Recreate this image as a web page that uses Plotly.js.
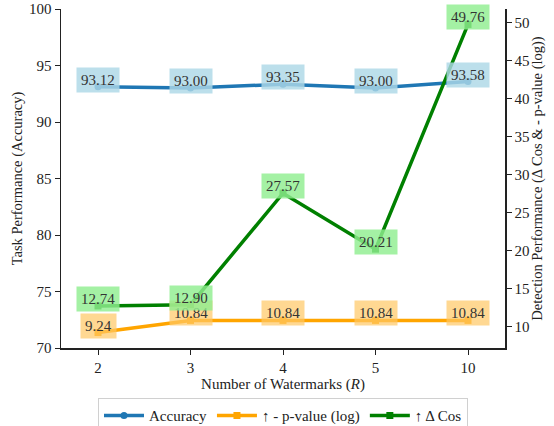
<!DOCTYPE html>
<html>
<head>
<meta charset="utf-8">
<script src="https://cdn.plot.ly/plotly-3.0.1.min.js"></script>
<style>html,body{margin:0;padding:0;background:#fff;}#chart{width:554px;height:426px;}</style>
</head>
<body>
<div id="chart"></div>
<script>
const categories = ['2', '3', '4', '5', '10'];
const accuracy = [93.12, 93.00, 93.35, 93.00, 93.58];
const pvalue = [9.24, 10.84, 10.84, 10.84, 10.84];
const deltaCos = [12.74, 12.90, 27.57, 20.21, 49.76];
const seriesNames = ['Accuracy', '\u2191 - p-value (log)', '\u2191 \u0394 Cos'];

const FONT = 'Liberation Serif, Times New Roman, serif';

const traces = [
  {x: categories, y: accuracy, name: seriesNames[0], mode: 'lines+markers', yaxis: 'y',
   line: {color: '#1f77b4', width: 3.5}, marker: {symbol: 'circle', size: 7, color: '#1f77b4'}},
  {x: categories, y: pvalue, name: seriesNames[1], mode: 'lines+markers', yaxis: 'y2',
   line: {color: '#ffa500', width: 3.5}, marker: {symbol: 'square', size: 7, color: '#ffa500'}},
  {x: categories, y: deltaCos, name: seriesNames[2], mode: 'lines+markers', yaxis: 'y2',
   line: {color: '#008000', width: 3.5}, marker: {symbol: 'square', size: 7, color: '#008000'}}
];

const annotations = [];
function addLabels(vals, yref, bg) {
  vals.forEach((v, i) => {
    annotations.push({x: i, y: v, xref: 'x', yref: yref, text: v.toFixed(2),
      showarrow: false, yshift: 7, bgcolor: bg, borderpad: 4,
      font: {family: FONT, size: 15, color: '#333'}});
  });
}
addLabels(accuracy, 'y', 'rgba(173,216,230,0.82)');
addLabels(pvalue, 'y2', 'rgba(255,200,100,0.7)');
addLabels(deltaCos, 'y2', 'rgba(144,238,144,0.82)');

const layout = {
  width: 554, height: 426,
  margin: {l: 61, r: 49, t: 9, b: 78, autoexpand: false},
  paper_bgcolor: '#fff', plot_bgcolor: '#fff',
  font: {family: FONT, size: 15, color: '#222'},
  showlegend: true,
  legend: {orientation: 'h', x: 0.5, xanchor: 'center', y: -0.148, yanchor: 'top',
    bordercolor: '#d0d0d0', borderwidth: 1, font: {family: FONT, size: 15, color: '#222'},
    itemwidth: 40},
  xaxis: {type: 'category', range: [-0.4, 4.4], showgrid: false, zeroline: false,
    showline: true, linecolor: '#222', linewidth: 1.5, ticks: 'outside', ticklen: 5,
    tickcolor: '#222', tickfont: {size: 15},
    title: {text: 'Number of Watermarks (<i>R</i>)', standoff: 0,
    font: {family: FONT, size: 15}}},
  yaxis: {range: [70, 100], dtick: 5, showgrid: false, zeroline: false,
    showline: true, linecolor: '#222', linewidth: 1.5, ticks: 'outside', ticklen: 5,
    tickcolor: '#222', tickfont: {size: 15},
    title: {text: 'Task Performance (Accuracy)', standoff: 3,
    font: {family: FONT, size: 14.5}}},
  yaxis2: {range: [7.21, 51.79], dtick: 5, tick0: 0, overlaying: 'y', side: 'right',
    showgrid: false, zeroline: false, showline: true, linecolor: '#222', linewidth: 1.5,
    ticks: 'outside', ticklen: 5, tickcolor: '#222', tickfont: {size: 15},
    title: {text: 'Detection Performance (\u0394 Cos & - p-value (log))', standoff: 3,
    font: {family: FONT, size: 14.5}}},
  annotations: annotations
};

Plotly.newPlot('chart', traces, layout, {displayModeBar: false, staticPlot: true});
</script>
</body>
</html>
